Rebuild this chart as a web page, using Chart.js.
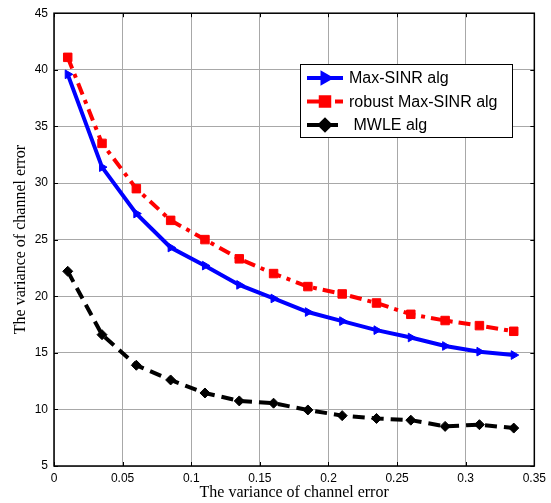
<!DOCTYPE html>
<html>
<head>
<meta charset="utf-8">
<script src="https://cdn.jsdelivr.net/npm/chart.js@4/dist/chart.umd.min.js"></script>
<style>
    html, body { margin: 0; padding: 0; background: #fff; }
    #wrap { width: 551px; height: 503px; position: relative; }
</style>
</head>
<body>
<div id="wrap"><canvas id="chart"></canvas></div>
<script>
// channel error variance (x) and curves
const xValues = [0.01, 0.035, 0.06, 0.085, 0.11, 0.135, 0.16, 0.185, 0.21, 0.235, 0.26, 0.285, 0.31, 0.335];
const maxSinr = [39.6, 31.4, 27.3, 24.3, 22.7, 21.0, 19.8, 18.6, 17.8, 17.0, 16.35, 15.6, 15.1, 14.8];
const robustMaxSinr = [41.1, 33.5, 29.5, 26.7, 25.0, 23.3, 22.0, 20.85, 20.2, 19.4, 18.4, 17.85, 17.4, 16.9];
const mwle = [22.2, 16.6, 13.9, 12.6, 11.45, 10.75, 10.55, 9.95, 9.45, 9.2, 9.05, 8.5, 8.65, 8.35];

const xTicks = [0, 0.05, 0.1, 0.15, 0.2, 0.25, 0.3, 0.35];
const yTicks = [5, 10, 15, 20, 25, 30, 35, 40, 45];
const seriesNames = ['Max-SINR alg', 'robust Max-SINR alg', ' MWLE alg'];
const axisTitle = 'The variance of channel error';

function toPoints(ys) {
    return ys.map((y, i) => ({ x: xValues[i], y: y }));
}

// legend box + axis frame + inward ticks + axis titles, drawn on top
const matlabDecor = {
    id: 'matlabDecor',
    afterDraw(chart) {
        const ctx = chart.ctx;
        const a = chart.chartArea;
        const xs = chart.scales.x, ys = chart.scales.y;
        ctx.save();

        // axis frame
        ctx.strokeStyle = '#000';
        ctx.lineWidth = 1.5;
        ctx.setLineDash([]);
        ctx.strokeRect(a.left, a.top, a.right - a.left, a.bottom - a.top);

        // inward tick marks (all four sides)
        ctx.lineWidth = 1;
        ctx.beginPath();
        xTicks.forEach(v => {
            const px = Math.round(xs.getPixelForValue(v)) + 0.5;
            ctx.moveTo(px, a.bottom); ctx.lineTo(px, a.bottom - 4);
            ctx.moveTo(px, a.top); ctx.lineTo(px, a.top + 4);
        });
        yTicks.forEach(v => {
            const py = Math.round(ys.getPixelForValue(v)) + 0.5;
            ctx.moveTo(a.left, py); ctx.lineTo(a.left + 4, py);
            ctx.moveTo(a.right, py); ctx.lineTo(a.right - 4, py);
        });
        ctx.stroke();

        // axis titles
        ctx.fillStyle = '#000';
        ctx.font = '16px "Liberation Serif", "Times New Roman", serif';
        ctx.textAlign = 'center';
        ctx.textBaseline = 'middle';
        ctx.fillText(axisTitle, (a.left + a.right) / 2, 493);
        ctx.save();
        ctx.translate(21, (a.top + a.bottom) / 2);
        ctx.rotate(-Math.PI / 2);
        ctx.fillText(axisTitle, 0, 0);
        ctx.restore();

        // legend
        const bx = 300, by = 64, bw = 212, bh = 73;
        ctx.fillStyle = '#fff';
        ctx.fillRect(bx, by, bw, bh);
        ctx.strokeStyle = '#000';
        ctx.lineWidth = 1;
        ctx.strokeRect(bx + 0.5, by + 0.5, bw, bh);

        ctx.font = '16px "Liberation Sans", Arial, sans-serif';
        ctx.textAlign = 'left';
        chart.data.datasets.forEach((ds, i) => {
            const yy = by + 14 + i * 23.5;
            ctx.strokeStyle = ds.borderColor;
            ctx.lineWidth = ds.borderWidth;
            ctx.setLineDash(ds.borderDash || []);
            ctx.beginPath();
            ctx.moveTo(bx + 7, yy);
            ctx.lineTo(bx + 43, yy);
            ctx.stroke();
            ctx.setLineDash([]);
            ctx.fillStyle = ds.borderColor;
            Chart.helpers.drawPoint(ctx, {
                pointStyle: ds.pointStyle,
                radius: ds.pointRadius,
                rotation: ds.pointRotation || 0,
                borderWidth: 1
            }, bx + 25, yy);
            ctx.fillStyle = '#000';
            ctx.fillText(seriesNames[i], bx + 49, yy + 1);
        });
        ctx.restore();
    }
};

new Chart(document.getElementById('chart'), {
    type: 'line',
    data: {
        datasets: [
            {
                label: seriesNames[0],
                data: toPoints(maxSinr),
                borderColor: '#0000ff',
                backgroundColor: '#0000ff',
                borderWidth: 4,
                pointStyle: 'triangle',
                pointRotation: 90,
                pointRadius: 5,
                pointBorderWidth: 1,
                tension: 0
            },
            {
                label: seriesNames[1],
                data: toPoints(robustMaxSinr),
                borderColor: '#ff0000',
                backgroundColor: '#ff0000',
                borderWidth: 4,
                borderDash: [12, 6, 4, 6],
                pointStyle: 'rect',
                pointRadius: 6,
                pointBorderWidth: 1,
                tension: 0
            },
            {
                label: seriesNames[2],
                data: toPoints(mwle),
                borderColor: '#000000',
                backgroundColor: '#000000',
                borderWidth: 4,
                borderDash: [12, 7],
                pointStyle: 'rectRot',
                pointRadius: 5,
                pointBorderWidth: 1,
                tension: 0
            }
        ]
    },
    options: {
        responsive: true,
        maintainAspectRatio: false,
        animation: false,
        layout: { padding: { left: 0, top: 13, right: 14, bottom: 0 } },
        plugins: {
            legend: { display: false },
            tooltip: { enabled: false }
        },
        scales: {
            x: {
                type: 'linear',
                min: 0,
                max: 0.35,
                afterBuildTicks: s => { s.ticks = xTicks.map(v => ({ value: v })); },
                afterFit: s => { s.height = 37; },
                ticks: {
                    color: '#000',
                    padding: 5,
                    maxRotation: 0,
                    font: { family: '"Liberation Sans", Arial, sans-serif', size: 12 },
                    callback: v => String(v)
                },
                grid: { color: '#a8a8a8', drawTicks: false },
                border: { display: false }
            },
            y: {
                min: 5,
                max: 45,
                afterBuildTicks: s => { s.ticks = yTicks.map(v => ({ value: v })); },
                afterFit: s => { s.width = 54; },
                ticks: {
                    color: '#000',
                    padding: 6,
                    font: { family: '"Liberation Sans", Arial, sans-serif', size: 12 }
                },
                grid: { color: '#a8a8a8', drawTicks: false },
                border: { display: false }
            }
        }
    },
    plugins: [matlabDecor]
});
</script>
</body>
</html>
